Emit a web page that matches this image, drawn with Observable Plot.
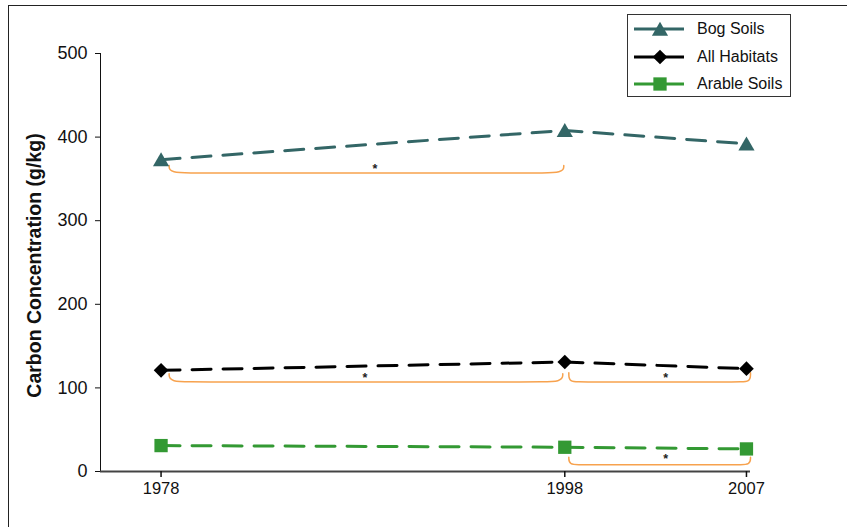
<!DOCTYPE html>
<html>
<head>
<meta charset="utf-8">
<script src="https://cdn.jsdelivr.net/npm/d3@7"></script>
<script src="https://cdn.jsdelivr.net/npm/@observablehq/plot@0.6"></script>
<style>
  html, body { margin: 0; padding: 0; background: #fff; overflow: hidden; }
  #wrap { position: relative; width: 847px; height: 527px; font-family: "Liberation Sans", Arial, sans-serif; }
  #border { position: absolute; left: 8px; top: 5px; width: 900px; height: 600px;
            border-top: 1.5px solid #222; border-left: 1.5px solid #222; pointer-events: none; }
  #legend { position: absolute; left: 627px; top: 14px; width: 162px; height: 81px;
            border: 1px solid #333; background: #fff; }
  .row { position: absolute; left: 0; height: 20px; display: flex; align-items: center; }
  .row svg { margin-left: 5px; }
  .row span { margin-left: 12px; font-size: 16px; color: #111; }
</style>
</head>
<body>
<div id="wrap">
  <div id="chart"></div>
  <div id="border"></div>
  <div id="legend"></div>
</div>
<script>
// Survey years and mean carbon concentration (g/kg) per habitat
const years = [1978, 1998, 2007];
const bogSoils = [373, 408, 392];
const allHabitats = [121, 131, 123];
const arableSoils = [31, 29, 27];

const seriesNames = ["Bog Soils", "All Habitats", "Arable Soils"];
const seriesColors = ["#336666", "#000000", "#339933"];
const seriesSymbols = ["triangle", "diamond2", "square"];
const seriesValues = [bogSoils, allHabitats, arableSoils];

const yTicks = [0, 100, 200, 300, 400, 500];

// Significant changes between surveys (brackets drawn under each series)
const bracketFrom = [1978.4, 1978.4, 1998.2, 1998.2];
const bracketTo = [1997.95, 1997.9, 2007.2, 2007.2];
const bracketTop = [366, 117, 118, 17];
const bracketBottom = [357, 107, 107, 8];
const starYear = [1988.6, 1988.1, 2003, 2003];
const starValue = [366, 116, 116, 18];

const rows = seriesNames.flatMap((name, s) =>
  years.map((year, i) => ({series: name, year, value: seriesValues[s][i]})));

const bracketPoints = bracketFrom.flatMap((x0, i) => {
  const x1 = bracketTo[i];
  const r = (x1 - x0) * 0.075;
  const t = bracketTop[i], b = bracketBottom[i];
  return [[x0, t], [x0, b], [x0 + r, b], [x1 - r, b], [x1, b], [x1, t]]
    .map(([x, y]) => ({id: i, x, y}));
});
const stars = starYear.map((x, i) => ({x, y: starValue[i]}));

const symbolR = {"triangle": 6, "diamond2": 6.6, "square": 7.5};

const marks = [
  Plot.ruleX([1975], {stroke: "#111", strokeWidth: 1}),
  Plot.ruleY([0], {stroke: "#444", strokeWidth: 2}),
  Plot.axisY({ticks: yTicks, tickSize: 5, tickPadding: 8, fontSize: 18, label: null}),
  Plot.axisX({ticks: years, tickFormat: "d", tickSize: 6, tickPadding: 5, fontSize: 16.5, label: null, strokeWidth: 1.5}),
  Plot.text(["Carbon Concentration (g/kg)"], {frameAnchor: "left", rotate: -90, dx: -66, dy: 3,
    fontWeight: "bold", fontSize: 19.5, textAnchor: "middle", lineAnchor: "middle"}),
  Plot.line(bracketPoints, {x: "x", y: "y", z: "id", curve: "basis", stroke: "#f7a24e", strokeWidth: 1.5}),
  Plot.text(stars, {x: "x", y: "y", text: () => "*", fontSize: 12.5, fontWeight: "bold", fill: "#222", dy: 3}),
];

seriesNames.forEach((name, s) => {
  const data = rows.filter(d => d.series === name);
  marks.push(Plot.line(data, {x: "year", y: "value", stroke: seriesColors[s], strokeWidth: 3,
    strokeDasharray: "19,12"}));
  marks.push(Plot.dot(data, {x: "year", y: "value", symbol: () => seriesSymbols[s], fill: seriesColors[s],
    r: symbolR[seriesSymbols[s]], stroke: "none", dy: seriesSymbols[s] === "triangle" ? 2 : 0}));
});

const chart = Plot.plot({
  width: 847,
  height: 527,
  marginLeft: 100,
  marginRight: 97,
  marginTop: 53,
  marginBottom: 56,
  style: {fontFamily: "'Liberation Sans', Arial, sans-serif", color: "#111", background: "white"},
  x: {type: "linear", domain: [1975, 2007.2]},
  y: {domain: [0, 500]},
  symbol: {type: "identity"},
  marks
});
document.getElementById("chart").appendChild(chart);

// Legend
const legend = document.getElementById("legend");
seriesNames.forEach((name, s) => {
  const row = document.createElement("div");
  row.className = "row";
  row.style.top = (4 + s * 27.5) + "px";
  const sym = d3.symbol(
    seriesSymbols[s] === "triangle" ? d3.symbolTriangle :
    seriesSymbols[s] === "diamond2" ? d3.symbolDiamond2 : d3.symbolSquare,
    Math.PI * symbolR[seriesSymbols[s]] ** 2)();
  row.innerHTML = `<svg width="52" height="20"><line x1="1" x2="51" y1="10" y2="10" stroke="${seriesColors[s]}" stroke-width="3"/>`
    + `<path transform="translate(27,${seriesSymbols[s] === "triangle" ? 12 : 10})" d="${sym}" fill="${seriesColors[s]}"/></svg>`
    + `<span>${name}</span>`;
  legend.appendChild(row);
});
</script>
</body>
</html>
